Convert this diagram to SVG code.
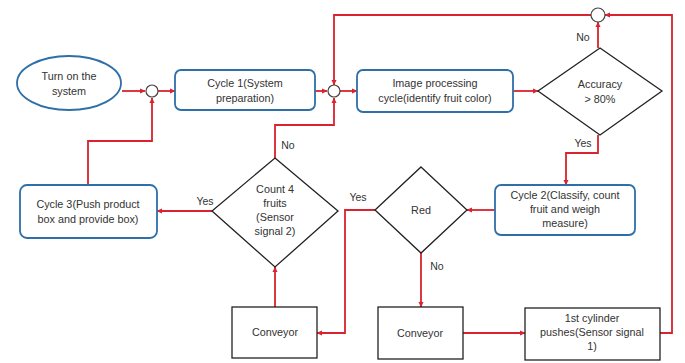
<svg xmlns="http://www.w3.org/2000/svg" width="685" height="363" viewBox="0 0 685 363">
<defs>
<marker id="ah" markerWidth="6" markerHeight="6" refX="5" refY="3" orient="auto" markerUnits="userSpaceOnUse">
<path d="M0,0.5 L5.5,3 L0,5.5 Z" fill="#d9232e"/>
</marker>
</defs>
<style>
.t{font-family:"Liberation Sans","Open Sans",sans-serif;font-size:10.8px;fill:#333;text-anchor:middle}
.lb{font-family:"Liberation Sans","Open Sans",sans-serif;font-size:10.5px;fill:#333;text-anchor:middle}
.rr{fill:#fff;stroke:#2f6fa8;stroke-width:1.8}
.bx{fill:#fff;stroke:#222;stroke-width:1.3}
.dm{fill:#fff;stroke:#222;stroke-width:1.3}
.jc{fill:#fff;stroke:#444;stroke-width:1.2}
.c{fill:none;stroke:#d9232e;stroke-width:1.8}
</style>
<rect width="685" height="363" fill="#fff"/>
<g id="connectors">
<path class="c" d="M122,91 H145" marker-end="url(#ah)"/>
<path class="c" d="M158,91 H175" marker-end="url(#ah)"/>
<path class="c" d="M88,185 V141 H152 V98" marker-end="url(#ah)"/>
<path class="c" d="M315,91 H327" marker-end="url(#ah)"/>
<path class="c" d="M339,91 H357" marker-end="url(#ah)"/>
<path class="c" d="M513,91 H538" marker-end="url(#ah)"/>
<path class="c" d="M598,48 V22" marker-end="url(#ah)"/>
<path class="c" d="M591,15 H334 V85" marker-end="url(#ah)"/>
<path class="c" d="M660,333 H672 V15 H605" marker-end="url(#ah)"/>
<path class="c" d="M598,135 V153 H566 V185" marker-end="url(#ah)"/>
<path class="c" d="M495,210 H467" marker-end="url(#ah)"/>
<path class="c" d="M375,210 H345 V333 H317" marker-end="url(#ah)"/>
<path class="c" d="M421,253 V307" marker-end="url(#ah)"/>
<path class="c" d="M463,333 H525" marker-end="url(#ah)"/>
<path class="c" d="M275,307 V267" marker-end="url(#ah)"/>
<path class="c" d="M212,211 H157" marker-end="url(#ah)"/>
<path class="c" d="M275,158 V125 H334 V98" marker-end="url(#ah)"/>
</g>
<g id="junction1"><circle class="jc" cx="152" cy="91" r="6"/></g>
<g id="junction2"><circle class="jc" cx="334" cy="91" r="6"/></g>
<g id="junction3"><circle class="jc" cx="598" cy="15" r="7"/></g>
<g id="start">
<ellipse cx="69" cy="83" rx="52" ry="27" fill="#fff" stroke="#2f6fa8" stroke-width="1.8"/>
<text class="t" x="69" y="80">Turn on the</text>
<text class="t" x="69" y="95">system</text>
</g>
<g id="cycle1">
<rect class="rr" x="175" y="70" width="140" height="40" rx="6"/>
<text class="t" x="245" y="87">Cycle 1(System</text>
<text class="t" x="245" y="102">preparation)</text>
</g>
<g id="imageproc">
<rect class="rr" x="357" y="70" width="156" height="42" rx="6"/>
<text class="t" x="435" y="87">Image processing</text>
<text class="t" x="435" y="102">cycle(identify fruit color)</text>
</g>
<g id="accuracy">
<path class="dm" d="M600,48 L662,91 L600,135 L538,91 Z"/>
<text class="t" x="600" y="88">Accuracy</text>
<text class="t" x="600" y="103">&gt; 80%</text>
</g>
<g id="cycle2">
<rect class="rr" x="495" y="185" width="140" height="50" rx="6"/>
<text class="t" x="565" y="199">Cycle 2(Classify, count</text>
<text class="t" x="565" y="213">fruit and weigh</text>
<text class="t" x="565" y="227">measure)</text>
</g>
<g id="red">
<path class="dm" d="M421,167 L467,210 L421,253 L375,210 Z"/>
<text class="t" x="421" y="214">Red</text>
</g>
<g id="count4">
<path class="dm" d="M275,158 L338,211 L275,267 L212,211 Z"/>
<text class="t" x="275" y="193">Count 4</text>
<text class="t" x="275" y="207">fruits</text>
<text class="t" x="275" y="221">(Sensor</text>
<text class="t" x="275" y="235">signal 2)</text>
</g>
<g id="cycle3">
<rect class="rr" x="20" y="185" width="137" height="53" rx="7"/>
<text class="t" x="88" y="208">Cycle 3(Push product</text>
<text class="t" x="88" y="223">box and provide box)</text>
</g>
<g id="conveyor1">
<rect class="bx" x="232" y="307" width="85" height="51"/>
<text class="t" x="275" y="336">Conveyor</text>
</g>
<g id="conveyor2">
<rect class="bx" x="378" y="307" width="85" height="52"/>
<text class="t" x="420" y="337">Conveyor</text>
</g>
<g id="cylinder">
<rect class="bx" x="525" y="308" width="135" height="52"/>
<text class="t" x="592" y="322">1st cylinder</text>
<text class="t" x="592" y="336">pushes(Sensor signal</text>
<text class="t" x="592" y="350">1)</text>
</g>
<g id="labels">
<text class="lb" x="583" y="41">No</text>
<text class="lb" x="583" y="147">Yes</text>
<text class="lb" x="288" y="149">No</text>
<text class="lb" x="205" y="205">Yes</text>
<text class="lb" x="358" y="201">Yes</text>
<text class="lb" x="437" y="270">No</text>
</g>
</svg>
